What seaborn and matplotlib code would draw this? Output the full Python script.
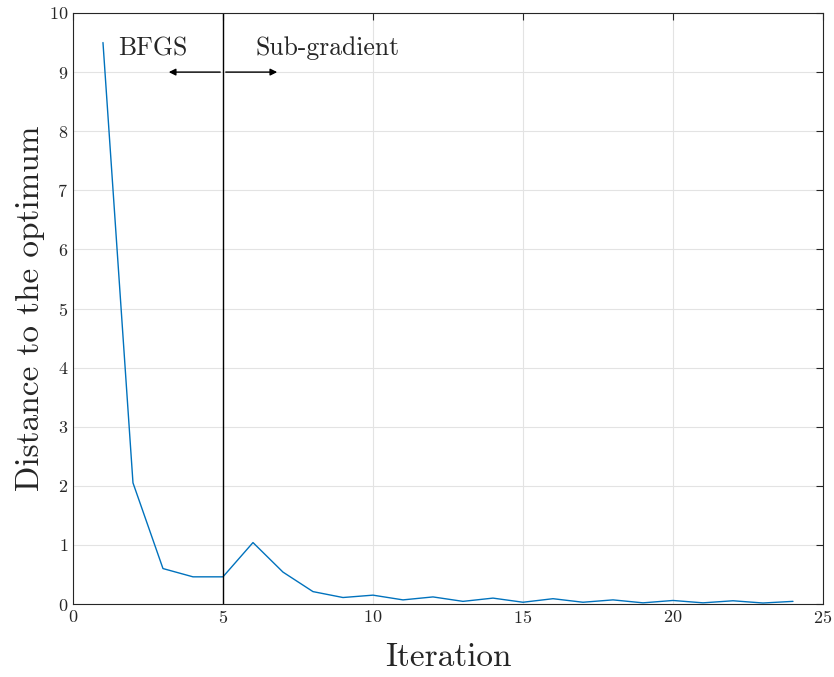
import matplotlib
matplotlib.use('Agg')
import matplotlib.pyplot as plt
import seaborn as sns
import pandas as pd

# Data
iterations = list(range(1, 25))
distance = [9.5, 2.05, 0.60, 0.46, 0.46, 1.04, 0.54, 0.21, 0.11, 0.15, 0.07, 0.12,
            0.045, 0.10, 0.03, 0.09, 0.03, 0.07, 0.02, 0.06, 0.02, 0.055, 0.017, 0.045]
switch_iter = 5
x_ticks = [0, 5, 10, 15, 20, 25]
y_ticks = list(range(0, 11))

df = pd.DataFrame({'Iteration': iterations, 'Distance': distance})

sns.set_style('white')
plt.rcParams['font.family'] = ['cmr10', 'DejaVu Serif']
plt.rcParams['axes.formatter.use_mathtext'] = True

fig = plt.figure(figsize=(8.34, 6.77), dpi=100)
ax = fig.add_axes([0.0875, 0.1078, 0.8993, 0.873])

sns.lineplot(data=df, x='Iteration', y='Distance', color='#0072BD', linewidth=1.0, ax=ax)
ax.axvline(switch_iter, color='black', linewidth=1.0)

# region annotations
ax.annotate('', xy=(3.1, 9.0), xytext=(switch_iter, 9.0),
            arrowprops=dict(arrowstyle='-|>', color='black', lw=1.0, mutation_scale=10))
ax.annotate('', xy=(6.9, 9.0), xytext=(switch_iter, 9.0),
            arrowprops=dict(arrowstyle='-|>', color='black', lw=1.0, mutation_scale=10))
ax.text(1.5, 9.4, 'BFGS', fontsize=18.5, va='center', ha='left')
ax.text(6.1, 9.4, 'Sub-gradient', fontsize=18.5, va='center', ha='left')

ax.set_xlim(0, 25)
ax.set_ylim(0, 10)
ax.set_xticks(x_ticks)
ax.set_yticks(y_ticks)
ax.grid(True, color='#e3e3e3', linewidth=0.8)
ax.tick_params(direction='in', top=True, right=True, labelsize=13, colors='#262626', length=5)
for s in ax.spines.values():
    s.set_color('#262626')
    s.set_linewidth(0.8)

ax.set_xlabel('Iteration', fontsize=24, color='#262626', labelpad=12)
ax.set_ylabel('Distance to the optimum', fontsize=24, color='#262626', labelpad=3)

fig.savefig('out.png', dpi=100)
